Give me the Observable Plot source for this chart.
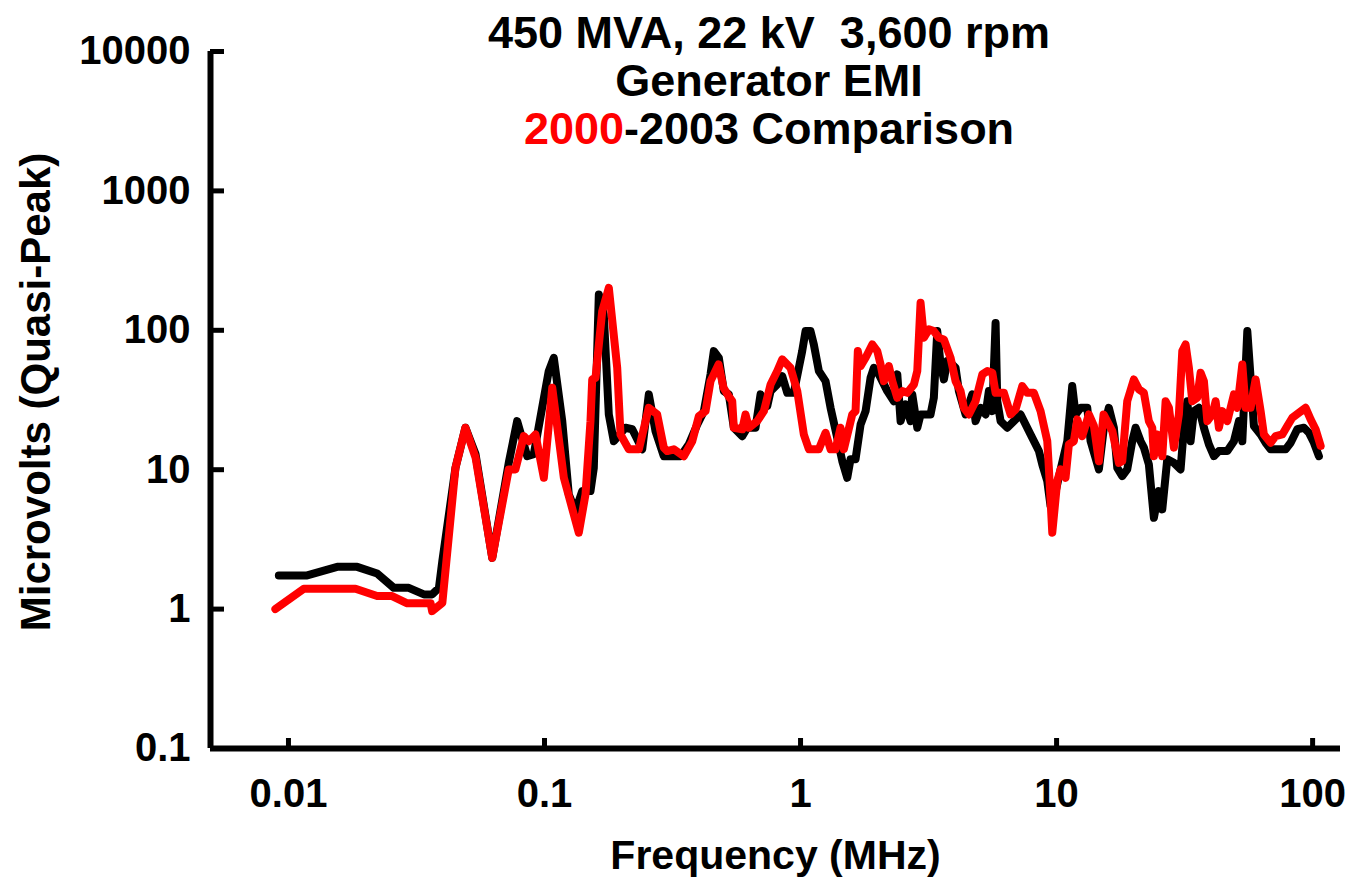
<!DOCTYPE html>
<html><head><meta charset="utf-8">
<script src="https://cdn.jsdelivr.net/npm/d3@7"></script>
<script src="https://cdn.jsdelivr.net/npm/@observablehq/plot@0.6"></script>
<style>
body{margin:0;background:#fff;}
#wrap{position:relative;width:1351px;height:879px;}
#title{position:absolute;left:469px;top:9px;width:600px;text-align:center;font:bold 45px/48px "Liberation Sans",Arial,sans-serif;white-space:pre;color:#000;z-index:2;}
#title .red{color:#ff0000;}
</style></head><body><div id="wrap"><div id="title"></div></div>
<script>
// Tick values
const xTicks = [0.01, 0.1, 1, 10, 100];
const yTicks = [0.1, 1, 10, 100, 1000, 10000];
const xLabel = "Frequency (MHz)";
const yLabel = "Microvolts (Quasi-Peak)";
const titleLines = ["450 MVA, 22 kV  3,600 rpm", "Generator EMI"];
const titleRed = "2000";
const titleRest = "-2003 Comparison";

// 2003 survey (black)
const freq2003 = [0.00917,0.01183,0.0155,0.01855,0.0222,0.0258,0.0295,0.0338,0.0364,0.0387,
0.0399,0.0449,0.0491,0.0538,0.0625,0.0725,0.0782,0.0856,0.0908,0.1039,
0.1087,0.1173,0.1244,0.1322,0.1404,0.1512,0.1558,0.163,0.1704,0.1783,
0.1865,0.2072,0.2201,0.2408,0.2555,0.2714,0.2924,0.34,0.3662,0.3951,
0.4192,0.4451,0.4585,0.4796,0.5016,0.5247,0.5488,0.5919,0.6192,0.6671,
0.698,0.7413,0.7637,0.811,0.8482,0.8874,0.9415,0.9849,1.015,1.046,
1.094,1.127,1.179,1.252,1.31,1.391,1.456,1.522,1.568,1.64,
1.716,1.795,1.877,1.934,2.023,2.182,2.315,2.387,2.459,2.572,
2.69,2.731,2.857,2.943,3.219,3.316,3.42,3.523,3.629,3.742,
3.914,4.032,4.154,4.411,4.685,4.826,5.048,5.281,5.439,5.609,
5.778,5.867,6.044,6.419,6.812,7.235,7.568,7.915,8.53,8.794,
9.198,9.475,9.82,10.37,11.01,11.51,11.86,12.41,13.18,13.58,
14.63,15.3,16.0,16.74,17.26,18.05,18.88,19.75,20.35,21.29,
21.93,22.93,23.99,25.09,25.87,27.06,28.72,30.5,31.43,32.4,
33.37,34.38,35.96,37.62,39.34,41.17,43.05,46.44,49.28,51.54,
53.14,55.58,57.25,58.98,62.66,65.53,68.54,78.45,82.07,87.12,
92.49,96.72,101.2,105.8];
const uv2003 = [1.745,1.745,2.01,2.01,1.8,1.42,1.42,1.275,1.275,1.42,
2.21,10.3,20.0,12.9,2.33,11.2,22.3,12.5,12.9,51.0,
63.5,22.3,6.65,5.05,7.02,7.02,10.3,181,130,24.9,
16.0,20.0,19.5,14.0,34.7,18.9,12.5,12.5,15.2,21.1,
26.3,48.3,70.9,63.5,36.6,34.7,20.0,17.4,20.0,20.0,
34.7,28.6,36.6,40.9,46.9,35.6,35.6,53.8,70.9,98.7,
98.7,79.2,51.0,43.2,27.8,16.9,11.5,8.75,11.9,11.9,
21.1,26.3,45.6,53.8,48.3,36.6,31.0,48.3,22.3,29.4,
22.3,34.7,20.0,24.9,24.9,32.8,98.7,56.9,44.4,60.1,
56.9,53.8,36.6,24.9,34.7,22.3,27.8,24.9,36.6,26.3,
113,31.0,22.3,20.0,22.3,24.9,21.1,17.9,13.6,10.9,
8.28,5.48,6.47,10.05,16.0,39.8,24.9,27.8,27.8,16.0,
10.05,20.0,27.8,20.0,10.3,9.0,10.05,16.0,20.0,16.0,
14.4,10.9,4.52,7.02,5.19,11.9,11.2,10.05,20.0,31.0,
16.0,26.3,27.8,20.0,15.2,12.5,13.6,13.6,16.0,22.3,
16.0,98.7,45.6,20.6,17.9,15.6,14.0,14.0,15.6,19.5,
20.0,18.4,15.6,12.5];

// 2000 survey (red)
const freq2000 = [0.00889,0.01148,0.01827,0.0222,0.0254,0.0291,0.0359,0.0364,0.0399,0.0449,
0.0491,0.0538,0.0625,0.0725,0.077,0.083,0.0868,0.0922,0.0994,0.1072,
0.119,0.1361,0.1446,0.1512,0.1536,0.1582,0.168,0.1783,0.1923,0.1981,
0.2135,0.2336,0.2555,0.2755,0.2924,0.3016,0.32,0.35,0.3776,0.4006,
0.4256,0.4451,0.4783,0.5003,0.5235,0.541,0.5488,0.5919,0.6097,0.628,
0.6775,0.719,0.7637,0.811,0.8482,0.914,0.971,1.03,1.078,1.179,
1.252,1.31,1.37,1.433,1.476,1.592,1.64,1.674,1.716,1.795,
1.906,1.994,2.054,2.116,2.213,2.282,2.387,2.497,2.612,2.772,
2.857,2.943,3.032,3.171,3.316,3.469,3.629,3.855,4.032,4.217,
4.344,4.544,4.826,5.127,5.363,5.609,5.778,6.226,6.613,6.917,
7.346,7.683,8.153,8.659,9.198,9.33,9.62,10.06,10.37,10.84,
11.17,11.68,12.05,12.6,13.37,13.99,14.63,15.26,16.51,17.52,
18.05,18.88,20.04,20.97,21.93,22.93,23.64,23.99,24.74,25.87,
26.66,27.47,28.72,30.04,30.97,31.9,32.87,33.89,35.44,36.52,
37.62,38.79,40.57,41.8,43.05,44.4,46.44,49.28,50.8,53.14,
54.73,57.25,59.88,62.66,64.52,68.54,71.7,76.14,79.65,83.3,
88.42,93.91,98.22,102.7,107.5];
const uv2000 = [1.0,1.4,1.4,1.24,1.24,1.1,1.1,0.967,1.11,10.3,
20.0,12.2,2.33,10.05,10.05,17.4,16.0,17.9,8.75,38.7,
8.75,3.53,6.65,22.3,44.4,45.6,137,202,53.8,17.9,
14.0,14.0,27.8,24.9,14.4,13.6,14.0,12.5,16.0,24.2,
26.3,43.2,56.9,38.7,33.7,31.0,20.0,19.5,24.9,20.0,
22.3,26.3,40.9,51.0,61.8,53.8,36.6,17.9,14.0,14.0,
18.4,14.0,14.0,20.0,14.0,24.9,26.3,70.9,55.4,63.5,
79.2,70.9,56.9,43.2,55.4,43.2,32.8,36.6,35.6,40.9,
51.0,157.5,88.4,101.5,98.7,88.4,86.0,63.5,43.2,36.6,
27.8,24.9,31.0,48.3,51.0,49.6,35.6,35.6,24.9,27.1,
39.8,35.6,35.6,26.3,16.0,10.3,3.53,8.28,10.05,8.75,
15.2,16.0,22.95,17.4,24.9,20.6,11.5,24.9,18.9,11.2,
11.5,31.0,44.4,37.7,35.6,22.3,20.0,12.5,17.9,12.5,
31.0,27.8,14.4,24.9,70.9,79.2,53.8,31.0,32.8,49.6,
43.2,22.3,24.9,31.0,20.0,26.3,22.3,34.7,27.8,56.9,
27.8,27.8,44.4,26.3,17.9,15.6,17.4,17.9,20.6,23.6,
25.6,27.8,22.95,19.5,14.8];

const s2003 = freq2003.map((f, i) => ({f, v: uv2003[i]}));
const s2000 = freq2000.map((f, i) => ({f, v: uv2000[i]}));

const xDomain = [0.00496, 128.5];
const yDomain = [0.1, 10000];

const title = document.getElementById("title");
title.textContent = titleLines.join("\n") + "\n";
const red = document.createElement("span");
red.className = "red";
red.textContent = titleRed;
title.appendChild(red);
title.appendChild(document.createTextNode(titleRest));

const chart = Plot.plot({
  width: 1351,
  height: 879,
  marginLeft: 210,
  marginRight: 11,
  marginTop: 51,
  marginBottom: 131,
  style: {fontFamily: '"Liberation Sans", Arial, sans-serif', fontWeight: "bold", fontSize: "40px", background: "white", color: "black", overflow: "visible"},
  x: {type: "log", domain: xDomain},
  y: {type: "log", domain: yDomain},
  marks: [
    Plot.axisX(xTicks, {tickSize: -10, tickPadding: 40, strokeWidth: 5, tickFormat: d => String(d), label: null}),
    Plot.axisY(yTicks, {tickSize: -14, tickPadding: 34, strokeWidth: 5, tickFormat: d => String(d), label: null}),
    Plot.ruleY([yDomain[0]], {strokeWidth: 6}),
    Plot.ruleX([xDomain[0]], {strokeWidth: 6}),
    Plot.line(s2003, {x: "f", y: "v", stroke: "black", strokeWidth: 8, strokeLinejoin: "round"}),
    Plot.line(s2000, {x: "f", y: "v", stroke: "#ff0000", strokeWidth: 8, strokeLinejoin: "round"}),
    Plot.text([xLabel], {text: d => d, frameAnchor: "bottom", textAnchor: "middle", dy: 120, fontSize: 41}),
    Plot.text([yLabel], {text: d => d, frameAnchor: "left", textAnchor: "middle", dx: -173.5, dy: -8, rotate: -90, fontSize: 42})
  ]
});
document.getElementById("wrap").appendChild(chart);
</script>
</body></html>
